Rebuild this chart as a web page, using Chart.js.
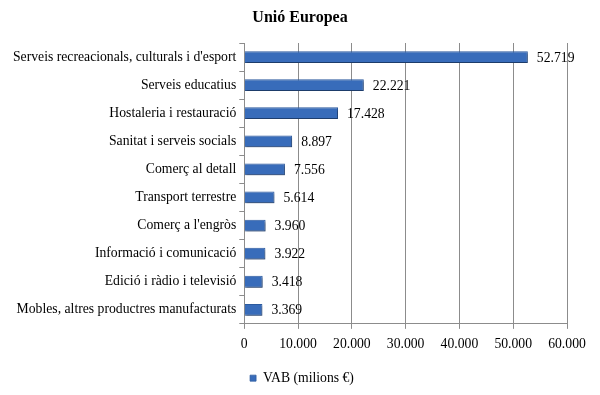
<!DOCTYPE html>
<html>
<head>
<meta charset="utf-8">
<script src="https://cdn.jsdelivr.net/npm/chart.js@4"></script>
<style>
  html, body { margin: 0; padding: 0; background: #fff; }
  #wrap { width: 600px; height: 395px; }
</style>
</head>
<body>
<div id="wrap"><canvas id="vab-chart"></canvas></div>
<script>
const categories = [
  "Serveis recreacionals, culturals i d'esport",
  "Serveis educatius",
  "Hostaleria i restauració",
  "Sanitat i serveis socials",
  "Comerç al detall",
  "Transport terrestre",
  "Comerç a l'engròs",
  "Informació i comunicació",
  "Edició i ràdio i televisió",
  "Mobles, altres productres manufacturats",
];
const vab = [52719, 22221, 17428, 8897, 7556, 5614, 3960, 3922, 3418, 3369];
const xTicks = [0, 10000, 20000, 30000, 40000, 50000, 60000];
const titleText = "Unió Europea";

const serif = "'Liberation Serif', 'Times New Roman', serif";
const fontSize = 13.7;

function fmt(v) {
  return String(v).replace(/\B(?=(\d{3})+(?!\d))/g, ".");
}

// value labels to the right of each bar, title centred on the canvas,
// soft shadow under bars, and the legend nudged to sit centred on the page
const extras = {
  id: "extras",
  afterLayout(chart) {
    const shift = chart.width / 2 + 2 - (chart.legend.left + chart.legend.right) / 2;
    chart.legend.left += shift;
    chart.legend.right += shift;
  },
  beforeDatasetDraw(chart) {
    const ctx = chart.ctx;
    ctx.save();
    ctx.shadowColor = "rgba(0, 0, 0, 0.35)";
    ctx.shadowBlur = 2;
    ctx.shadowOffsetX = 1;
    ctx.shadowOffsetY = 2;
  },
  afterDatasetDraw(chart) {
    chart.ctx.restore();
  },
  afterDatasetsDraw(chart) {
    const ctx = chart.ctx;
    const meta = chart.getDatasetMeta(0);
    ctx.save();
    ctx.font = fontSize + "px " + serif;
    ctx.fillStyle = "#000";
    ctx.textAlign = "left";
    ctx.textBaseline = "middle";
    meta.data.forEach((bar, i) => {
      ctx.fillText(fmt(chart.data.datasets[0].data[i]), bar.x + 9, bar.y + 1);
    });
    ctx.font = "bold 16px " + serif;
    ctx.textAlign = "center";
    ctx.fillText(titleText, chart.width / 2, 18);
    ctx.restore();
  },
};

const ctx = document.getElementById("vab-chart").getContext("2d");

new Chart(ctx, {
  type: "bar",
  data: {
    labels: categories,
    datasets: [
      {
        label: "VAB (milions €)",
        data: vab,
        backgroundColor: "#386CBA",
        borderColor: "#2C5A9E",
        borderWidth: { top: 1, left: 0, right: 1, bottom: 1 },
        barPercentage: 0.42,
        categoryPercentage: 1,
      },
    ],
  },
  options: {
    indexAxis: "y",
    responsive: true,
    maintainAspectRatio: false,
    animation: false,
    layout: {
      padding: { left: 10, right: 33, top: 43, bottom: 0 },
    },
    plugins: {
      title: { display: false },
      legend: {
        position: "bottom",
        labels: {
          color: "#000",
          font: { family: serif, size: fontSize },
          usePointStyle: true,
          pointStyle: "rect",
          boxWidth: 6,
          boxHeight: 6,
          padding: 12,
        },
      },
      tooltip: { enabled: false },
    },
    scales: {
      x: {
        min: 0,
        max: 60000,
        afterBuildTicks: (axis) => {
          axis.ticks = xTicks.map((v) => ({ value: v }));
        },
        grid: {
          color: "#8c8c8c",
          tickLength: 5,
        },
        border: { color: "#8c8c8c" },
        ticks: {
          color: "#000",
          font: { family: serif, size: fontSize },
          maxRotation: 0,
          padding: 7,
          callback: (v) => fmt(v),
        },
      },
      y: {
        grid: {
          drawOnChartArea: false,
          color: "#8c8c8c",
          tickLength: 5,
        },
        border: { color: "#8c8c8c" },
        ticks: {
          color: "#000",
          font: { family: serif, size: fontSize },
          padding: 3,
        },
      },
    },
  },
  plugins: [extras],
});
</script>
</body>
</html>
